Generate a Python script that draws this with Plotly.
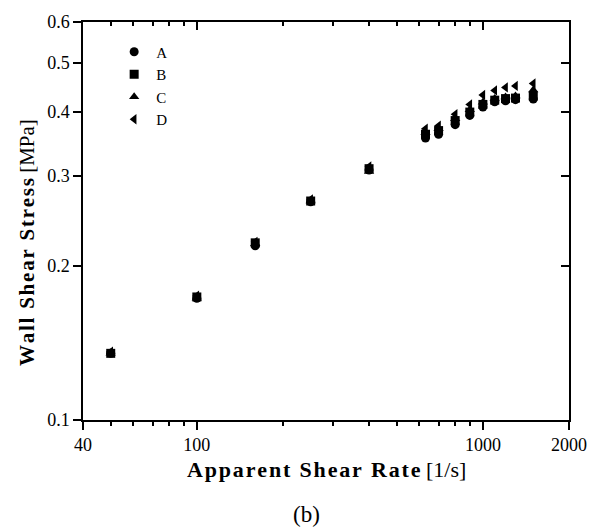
import plotly.graph_objects as go
import math

shear_rate = [50, 100, 160, 250, 400, 630, 700, 800, 900, 1000, 1100, 1200, 1300, 1500]
stress_A = [0.135, 0.173, 0.219, 0.267, 0.308, 0.356, 0.362, 0.378, 0.394, 0.409, 0.419, 0.421, 0.423, 0.424]
stress_B = [0.135, 0.174, 0.222, 0.268, 0.310, 0.362, 0.368, 0.385, 0.400, 0.414, 0.422, 0.425, 0.426, 0.430]
stress_C = [0.135, 0.173, 0.221, 0.268, 0.306, 0.365, 0.371, 0.388, 0.404, 0.418, 0.425, 0.428, 0.430, 0.442]
stress_D = [0.136, 0.175, 0.223, 0.270, 0.313, 0.371, 0.376, 0.396, 0.414, 0.432, 0.441, 0.447, 0.450, 0.455]

series_names = ["A", "B", "C", "D"]
series_vals = [stress_A, stress_B, stress_C, stress_D]
symbols = ["circle", "square", "triangle-up", "triangle-left"]

x_major = [40, 100, 1000, 2000]
x_minor = [50, 60, 70, 80, 90, 200, 300, 400, 500, 600, 700, 800, 900]
y_ticks = [0.1, 0.2, 0.3, 0.4, 0.5, 0.6]

x_title_bold = "Apparent Shear Rate"
x_title_unit = "[1/s]"
y_title_bold = "Wall Shear Stress"
y_title_unit = "[MPa]"
panel_label = "(b)"

FONT = "Liberation Serif, Times New Roman, serif"
HS = "\u200a"


def spaced(s):
    return HS.join(list(s))


fig = go.Figure()
for name, vals, sym in zip(series_names, series_vals, symbols):
    fig.add_trace(go.Scatter(
        x=shear_rate, y=vals, mode="markers", name=name,
        marker=dict(symbol=sym, size=9, color="black", line=dict(width=0)),
    ))

# dummy trace for the mirrored (inward tick) axes
fig.add_trace(go.Scatter(x=[None], y=[None], xaxis="x2", yaxis="y2",
                         showlegend=False, hoverinfo="skip"))

xr = [math.log10(40), math.log10(2000)]
yr = [math.log10(0.1), math.log10(0.6)]

axis_common = dict(showgrid=False, zeroline=False, showline=True,
                   linecolor="black", linewidth=1.5,
                   tickcolor="black", tickwidth=1.5)

fig.update_layout(
    width=599, height=529,
    margin=dict(l=83, r=21, t=20, b=109),
    paper_bgcolor="white", plot_bgcolor="white",
    font=dict(family=FONT, size=18, color="black"),
    showlegend=True,
    legend=dict(x=0.06, y=0.966, xanchor="left", yanchor="top",
                bgcolor="rgba(0,0,0,0)", font=dict(size=15, family=FONT),
                tracegroupgap=0, itemwidth=34),
    xaxis=dict(type="log", range=xr, tickvals=x_major,
               ticktext=[str(v) for v in x_major],
               ticks="outside", ticklen=8,
               minor=dict(tickvals=x_minor, ticks="outside", ticklen=4,
                          tickcolor="black", tickwidth=1.5),
               tickfont=dict(size=18, family=FONT),
               **axis_common),
    yaxis=dict(type="log", range=yr, tickvals=y_ticks,
               ticktext=[str(v) for v in y_ticks],
               ticks="outside", ticklen=8,
               tickfont=dict(size=18, family=FONT),
               **axis_common),
    xaxis2=dict(type="log", range=xr, overlaying="x", side="top", anchor="y2",
                tickvals=x_major, ticks="inside", ticklen=8, showticklabels=False,
                minor=dict(tickvals=x_minor, ticks="inside", ticklen=4,
                           tickcolor="black", tickwidth=1.5),
                **axis_common),
    yaxis2=dict(type="log", range=yr, overlaying="y", side="right", anchor="x2",
                tickvals=y_ticks, ticks="inside", ticklen=8, showticklabels=False,
                **axis_common),
    annotations=[
        dict(text="<b>" + spaced(x_title_bold) + "</b> " + x_title_unit,
             xref="paper", yref="paper",
             x=0.5, y=-0.125, xanchor="center", yanchor="middle", showarrow=False,
             font=dict(size=22, family=FONT)),
        dict(text="<b>" + spaced(y_title_bold) + "</b> " + y_title_unit,
             xref="paper", yref="paper",
             x=-0.115, y=0.445, xanchor="center", yanchor="middle", showarrow=False,
             textangle=-90, font=dict(size=21, family=FONT)),
        dict(text=panel_label, xref="paper", yref="paper",
             x=0.46, y=-0.2375, xanchor="center", yanchor="middle", showarrow=False,
             font=dict(size=23, family=FONT)),
    ],
)

fig.write_html("out.html")
